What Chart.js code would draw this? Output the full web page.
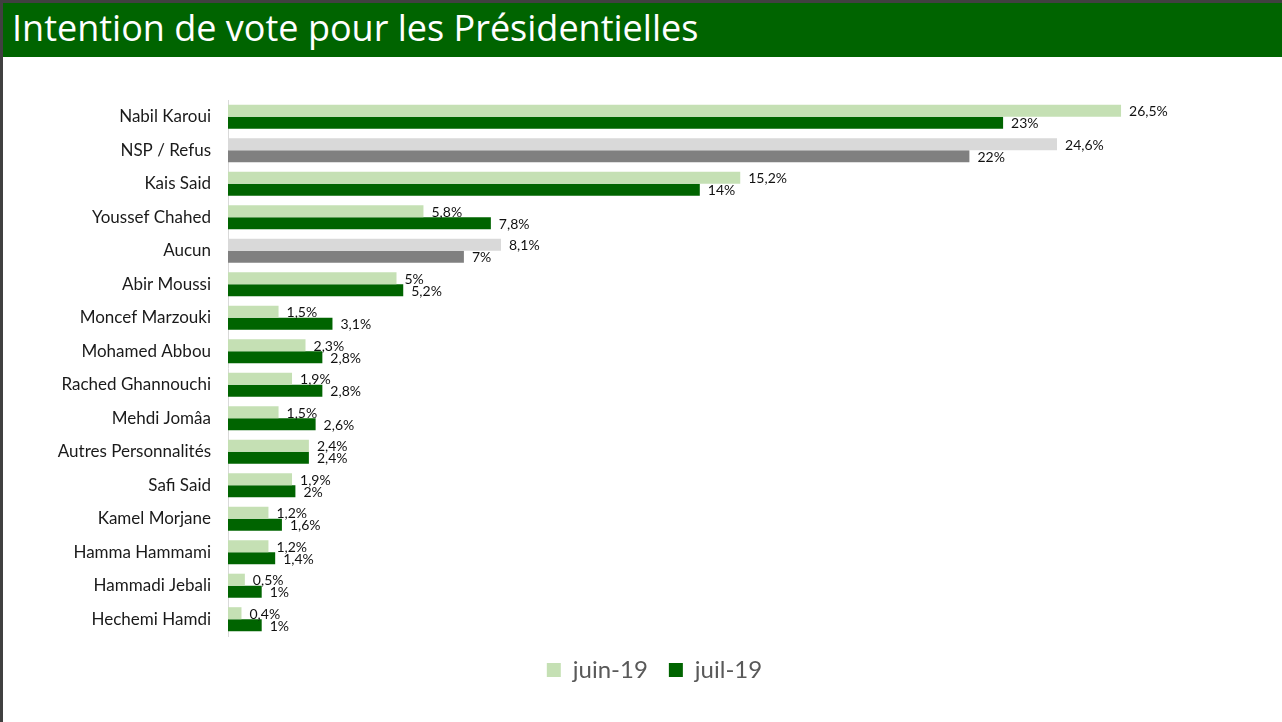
<!DOCTYPE html>
<html>
<head>
<meta charset="utf-8">
<script src="https://cdn.jsdelivr.net/npm/chart.js@4"></script>
<style>
    html, body { margin: 0; padding: 0; background: #ffffff; }
    #page { position: relative; width: 1282px; height: 722px; overflow: hidden; background: #ffffff; }
    #frameTop { position: absolute; left: 0; top: 0; width: 1282px; height: 3px; background: #404040; }
    #frameLeft { position: absolute; left: 0; top: 0; width: 3px; height: 722px; background: #404040; }
    #header { position: absolute; left: 3px; top: 3px; width: 1279px; height: 54px; background: #006400; }
    #header h1 { margin: 0; position: absolute; left: 9px; top: 2px; font-family: "Open Sans", sans-serif; font-weight: 400; font-size: 36px; color: #ffffff; line-height: 46px; white-space: nowrap; }
    #chartBox { position: absolute; left: 3px; top: 57px; width: 1279px; height: 665px; }
</style>
</head>
<body>
<div id="page">
    <div id="frameTop"></div>
    <div id="frameLeft"></div>
    <div id="header"><h1>Intention de vote pour les Présidentielles</h1></div>
    <div id="chartBox"><canvas id="voteChart" width="1279" height="665"></canvas></div>
</div>
<script>
// Candidates, top to bottom
const candidates = [
    'Nabil Karoui', 'NSP / Refus', 'Kais Said', 'Youssef Chahed', 'Aucun',
    'Abir Moussi', 'Moncef Marzouki', 'Mohamed Abbou', 'Rached Ghannouchi',
    'Mehdi Jomâa', 'Autres Personnalités', 'Safi Said', 'Kamel Morjane',
    'Hamma Hammami', 'Hammadi Jebali', 'Hechemi Hamdi'
];

// Vote intentions in %
const juin19 = [26.5, 24.6, 15.2, 5.8, 8.1, 5, 1.5, 2.3, 1.9, 1.5, 2.4, 1.9, 1.2, 1.2, 0.5, 0.4];
const juil19 = [23, 22, 14, 7.8, 7, 5.2, 3.1, 2.8, 2.8, 2.6, 2.4, 2, 1.6, 1.4, 1, 1];

// rows shown in grey (no candidate)
const greyRows = ['NSP / Refus', 'Aucun'];

const seriesNames = ['juin-19', 'juil-19'];

function rowColor(light) {
    return function(context) {
        const isGrey = context.dataIndex !== undefined && greyRows.includes(candidates[context.dataIndex]);
        if (light) {
            return isGrey ? '#D9D9D9' : '#C5E0B4';
        }
        return isGrey ? '#808080' : '#006400';
    };
}

function formatPct(v) {
    return String(v).replace('.', ',') + '%';
}

// Draw the value next to the end of each bar
const barLabels = {
    id: 'barLabels',
    afterDatasetsDraw(chart) {
        const ctx = chart.ctx;
        ctx.save();
        ctx.font = '14px Lato';
        ctx.fillStyle = '#111111';
        ctx.textAlign = 'left';
        ctx.textBaseline = 'middle';
        chart.data.datasets.forEach((ds, i) => {
            chart.getDatasetMeta(i).data.forEach((bar, j) => {
                ctx.fillText(formatPct(ds.data[j]), bar.x + 8, bar.y + 1);
            });
        });
        ctx.restore();
    }
};

// The original legend sits a bit right of the plot's centre
const legendShift = {
    id: 'legendShift',
    afterLayout(chart) {
        chart.legend.left += 21;
        chart.legend.right += 21;
    }
};

const voteCtx = document.getElementById('voteChart').getContext('2d');

new Chart(voteCtx, {
    type: 'bar',
    data: {
        labels: candidates,
        datasets: [{
            label: seriesNames[0],
            data: juin19,
            backgroundColor: rowColor(true),
            borderWidth: 0,
            categoryPercentage: 0.72,
            barPercentage: 1.0
        }, {
            label: seriesNames[1],
            data: juil19,
            backgroundColor: rowColor(false),
            borderWidth: 0,
            categoryPercentage: 0.72,
            barPercentage: 1.0
        }]
    },
    options: {
        indexAxis: 'y',
        responsive: false,
        animation: false,
        layout: {
            padding: { left: 25, right: 43, top: 43, bottom: 30 }
        },
        plugins: {
            legend: {
                position: 'bottom',
                labels: {
                    boxWidth: 14,
                    boxHeight: 14,
                    padding: 21,
                    color: '#595959',
                    font: { family: 'Lato', size: 24 }
                }
            },
            tooltip: { enabled: false }
        },
        scales: {
            x: {
                min: 0,
                max: 30,
                display: true,
                grid: { display: false, drawTicks: false },
                border: { display: false },
                ticks: { display: false },
                afterFit: function(scale) {
                    scale.height = 1;
                }
            },
            y: {
                grid: { display: false, drawTicks: false },
                border: { display: true, color: '#D9D9D9', width: 1 },
                ticks: {
                    padding: 17,
                    color: '#1a1a1a',
                    font: { family: 'Lato', size: 17 }
                },
                afterFit: function(scale) {
                    scale.width = 200;
                }
            }
        }
    },
    plugins: [barLabels, legendShift]
});
</script>
</body>
</html>
